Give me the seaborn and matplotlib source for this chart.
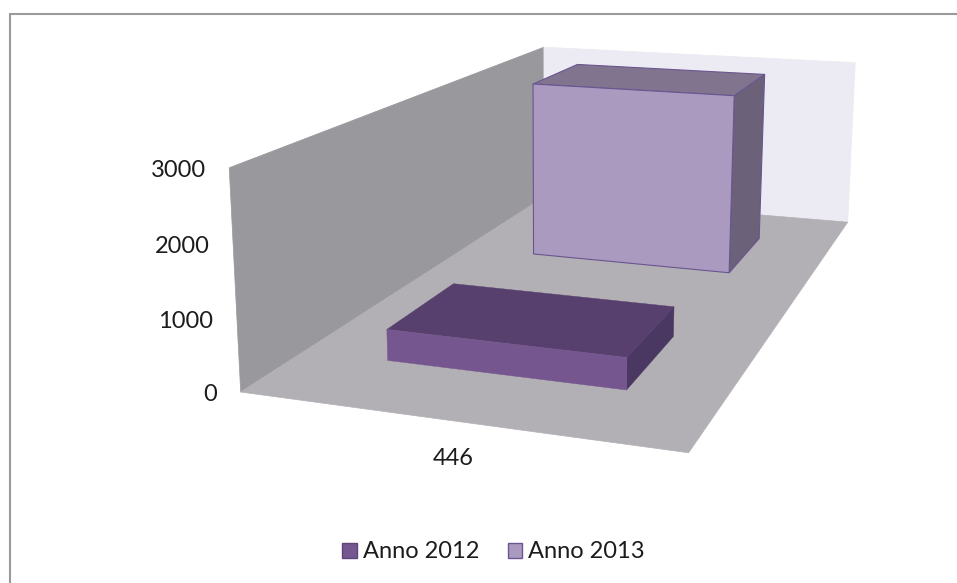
import numpy as np
import matplotlib
matplotlib.use("Agg")
import matplotlib.pyplot as plt
from matplotlib.lines import Line2D
from matplotlib.patches import Patch
from mpl_toolkits.mplot3d.art3d import Poly3DCollection
import seaborn as sns

# Chart data
category = "446"
series_names = ["Anno 2012", "Anno 2013"]
series_values = [450, 2965]
value_ticks = [0, 1000, 2000, 3000]

# Face colours per series: front, top, side
front_colors = ["#75568F", "#AA9ABF"]
top_colors = ["#58406E", "#80748F"]
side_colors = ["#4B3862", "#6B6179"]
edge_colors = [None, "#6A5590"]
legend_edges = ["#5E4478", "#6A5590"]

sns.set_theme(style="white")
plt.rcParams["font.family"] = ["Lato", "DejaVu Sans"]
TEXT = "#1c1c1c"

W, H = 957, 583
fig = plt.figure(figsize=(W / 100, H / 100), dpi=100, facecolor="white")

# mplot3d keeps a square box, so the axes span the width and overhang vertically.
extra = (W - H) / 2
ax = fig.add_axes([0, -extra / H, 1, W / H], projection="3d", computed_zorder=False)
ax.patch.set_visible(False)
ax.set_axis_off()

# Oblique camera: world units are x in 0-1, depth in 0-1 and value in 0-3000.
zmax = value_ticks[-1]
camera = np.array([
    [381.495, 589.364, -19.591 / zmax, 240.192],
    [17.083, -91.736, -230.217 / zmax, 391.529],
    [-0.0965, 0.52596, -0.0355 / zmax, 1.0],
])
depth_row = [0.0, 1.0, 0.0, 0.0]
ax.get_proj = lambda: np.vstack([camera[0], camera[1], depth_row, camera[2]])
ax.viewLim.intervalx = (0, W)
ax.viewLim.intervaly = (H + extra, -extra)


def label_at(x, y, z, dx, dy, text, ha):
    """Place a flat label at a world position, offset in pixels."""
    u, v, w = camera @ np.array([x, y, z, 1.0])
    fig.text((u / w + dx) / W, 1 - (v / w + dy) / H, text, ha=ha, va="center",
             fontsize=17, color=TEXT)


# Walls and floor
walls = [
    ([[0, 0, 0], [0, 1, 0], [0, 1, zmax], [0, 0, zmax]], "#99989C", 1),
    ([[0, 1, 0], [1, 1, 0], [1, 1, zmax], [0, 1, zmax]], "#ECEAF2", 1),
    ([[0, 0, 0], [1, 0, 0], [1, 1, 0], [0, 1, 0]], "#B3B0B5", 2),
]
for verts, colour, order in walls:
    ax.add_collection3d(Poly3DCollection([verts], facecolors=colour, edgecolors=colour,
                                         linewidths=0.5, zorder=order))
ax.plot([0, 1], [0, 0], [0, 0], color="#8C8A8E", lw=1.2, zorder=2.5)
ax.plot([1, 1], [0, 1], [0, 0], color="#A5A3A8", lw=0.8, zorder=2.5)

# One box per series, placed along the depth axis
hidden = (0, 0, 0, 0)
slot = 1 / len(series_values)
for i, value in enumerate(series_values):
    y0 = slot * i + 0.15
    # bar3d face order: bottom, top, front, back, left, right
    faces = [hidden, top_colors[i], front_colors[i], hidden, hidden, side_colors[i]]
    edge = edge_colors[i]
    if edge is None:
        edges = faces
        width = 0.3
    else:
        edges = [hidden, edge, edge, hidden, hidden, edge]
        width = 0.8
    ax.bar3d(0.214, y0, 0, 0.572, 0.2, value, color=faces, edgecolor=edges,
             linewidth=width, shade=False, zorder=3 + (len(series_values) - i))

# Value axis labels to the left of the front wall edge
for tick in value_ticks:
    label_at(0, 0, tick, -23, 3, str(tick), "right")

# Category label below the middle of the front floor edge
label_at(0.5, 0, 0, 0, 38, category, "center")

# Legend
handles = [Patch(facecolor=c, edgecolor=e, linewidth=1) for c, e in zip(front_colors, legend_edges)]
fig.legend(handles, series_names, loc="center", bbox_to_anchor=(493.5 / W, 1 - 552 / H), ncol=2,
           frameon=False, fontsize=17, labelcolor=TEXT, handlelength=0.62, handleheight=0.62,
           handletextpad=0.26, columnspacing=1.2, borderpad=0)

# Chart frame: only its top and left edges fall inside the figure
frame = dict(color="#9A9A9A", lw=1.5, transform=fig.transFigure)
fig.add_artist(Line2D([9.5 / W, 1], [1 - 13.5 / H, 1 - 13.5 / H], **frame))
fig.add_artist(Line2D([9.5 / W, 9.5 / W], [0, 1 - 13.5 / H], **frame))

fig.savefig("out.png", dpi=100)
